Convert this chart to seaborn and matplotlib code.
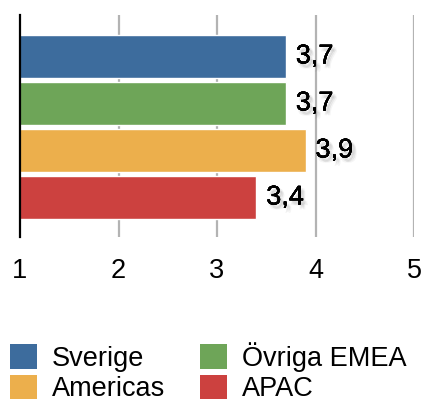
import matplotlib
matplotlib.use("Agg")
import matplotlib.pyplot as plt
import matplotlib.patheffects as pe
from matplotlib.patches import Patch
import seaborn as sns
import pandas as pd

categories = ["Sverige", "Övriga EMEA", "Americas", "APAC"]
values = [3.7, 3.7, 3.9, 3.4]
value_labels = ["3,7", "3,7", "3,9", "3,4"]
colors = ["#3d6c9d", "#6ea558", "#ecaf4c", "#cc413f"]
x_ticks = [1, 2, 3, 4, 5]
x_tick_labels = ["1", "2", "3", "4", "5"]

sns.set_theme(style="white")
plt.rcParams["font.family"] = ["Liberation Sans", "DejaVu Sans"]
plt.rcParams["text.color"] = "black"

df = pd.DataFrame({"region": categories, "score": values})

fig = plt.figure(figsize=(4.21, 4.07), dpi=100)
ax = fig.add_axes([20 / 421, 1 - 237 / 407, 394 / 421, 222 / 407])

sns.barplot(data=df, x="score", y="region", hue="region", palette=colors,
            orient="h", width=0.92, legend=False, ax=ax, saturation=1)

ax.set_xlim(1, 5)
ax.set_ylim(3.84, -0.88)
ax.set_xticks(x_ticks)
ax.set_xticklabels(x_tick_labels, fontsize=19.5)
ax.set_yticks([])
ax.set_xlabel("")
ax.set_ylabel("")
ax.tick_params(axis="x", length=0, pad=15, colors="black")

for x in x_ticks[1:]:
    ax.axvline(x, color="#b3b3b3", lw=1.6, zorder=0)

for s in ["top", "right", "bottom"]:
    ax.spines[s].set_visible(False)
ax.spines["left"].set_color("black")
ax.spines["left"].set_linewidth(1.6)
ax.set_facecolor("none")

# soft drop shadow built from a few faint offset copies
shadow = [pe.withSimplePatchShadow(offset=(dx, dy), shadow_rgbFace="#404040", alpha=0.05)
          for dx, dy in [(1.5, -2.5), (2.5, -3), (3, -2), (2, -1.5), (1, -3.5), (3.5, -3.5)]]
for i, (v, lab) in enumerate(zip(values, value_labels)):
    ax.text(v + 0.1, i, lab, va="center", ha="left", fontsize=19.5,
            color="black", path_effects=shadow + [pe.Normal()])

# legend filled row by row: Sverige, Övriga EMEA / Americas, APAC
order = [0, 2, 1, 3]
handles = [Patch(facecolor=colors[i], edgecolor="none") for i in order]
labels = [categories[i] for i in order]
fig.legend(handles, labels, ncol=2, loc="upper left",
           bbox_to_anchor=(10 / 421, 1 - 342 / 407), frameon=False,
           fontsize=19.5, handlelength=1.0, handleheight=1.0,
           handletextpad=0.55, columnspacing=1.27, labelspacing=0.1,
           borderpad=0, borderaxespad=0)

fig.savefig("out.png", dpi=100)
